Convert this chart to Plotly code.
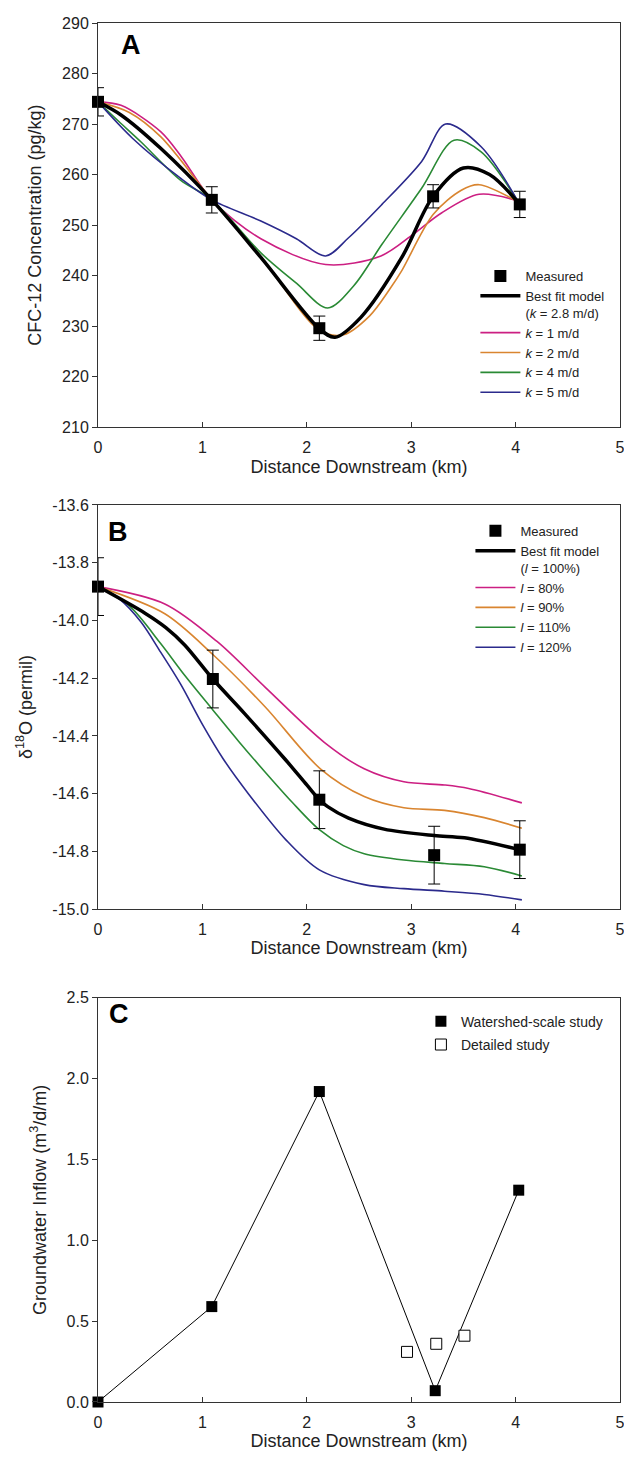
import plotly.graph_objects as go

# ---------------- Panel A data (CFC-12) ----------------
A_meas_x = [0.0, 1.09, 2.12, 3.21, 4.04]
A_meas_y = [274.4, 255.0, 229.6, 255.7, 254.1]
A_meas_err = [2.8, 2.6, 2.4, 2.3, 2.6]

A_best_x = [0.0, 0.22, 0.6, 1.09, 1.56, 2.12, 2.27, 2.52, 2.91, 3.21, 3.5, 3.75, 4.04]
A_best_y = [274.4, 271.8, 265.2, 255.0, 243.6, 229.5, 227.8, 231.8, 243.6, 255.7, 261.3, 260.0, 254.1]

A_k1_x = [0.0, 0.22, 0.6, 0.8, 1.09, 1.56, 2.18, 2.71, 3.02, 3.29, 3.65, 4.04]
A_k1_y = [274.4, 273.7, 268.5, 263.5, 255.0, 247.3, 242.2, 243.9, 248.2, 252.4, 256.1, 254.7]

A_k2_x = [0.0, 0.3, 0.6, 1.09, 1.56, 2.12, 2.35, 2.6, 2.8, 2.91, 3.21, 3.48, 3.65, 4.04]
A_k2_y = [274.4, 272.3, 267.5, 255.0, 243.8, 229.2, 228.3, 232.0, 237.5, 241.0, 252.1, 256.9, 258.0, 254.4]

A_k4_x = [0.0, 0.2, 0.41, 0.79, 1.09, 1.56, 1.9, 2.2, 2.45, 2.72, 3.1, 3.41, 3.67, 4.04]
A_k4_y = [274.4, 270.5, 266.5, 258.9, 255.0, 244.5, 238.5, 233.6, 238.0, 246.2, 257.3, 266.8, 264.5, 254.1]

A_k5_x = [0.0, 0.33, 0.79, 1.09, 1.56, 1.9, 2.18, 2.4, 2.72, 3.1, 3.33, 3.67, 4.04]
A_k5_y = [274.4, 267.2, 259.3, 255.0, 250.8, 247.3, 243.9, 247.5, 254.1, 262.6, 270.0, 265.5, 254.1]

A_yticks = [210, 220, 230, 240, 250, 260, 270, 280, 290]

# ---------------- Panel B data (delta 18O) ----------------
B_meas_x = [0.0, 1.10, 2.12, 3.22, 4.04]
B_meas_y = [-13.883, -14.203, -14.621, -14.813, -14.794]
B_meas_err = [0.1, 0.1, 0.1, 0.1, 0.1]

B_best_x = [0.0, 0.45, 0.65, 0.83, 1.10, 1.40, 1.79, 2.00, 2.12, 2.20, 2.40, 2.74, 3.22, 3.51, 4.04]
B_best_y = [-13.883, -13.975, -14.025, -14.085, -14.203, -14.321, -14.480, -14.570, -14.621, -14.645, -14.685, -14.723, -14.745, -14.753, -14.794]

B_l80_x = [0.0, 0.64, 1.14, 1.60, 2.17, 2.55, 2.93, 3.32, 3.55, 4.06]
B_l80_y = [-13.883, -13.943, -14.073, -14.231, -14.423, -14.514, -14.559, -14.570, -14.582, -14.632]

B_l90_x = [0.0, 0.64, 1.10, 1.60, 2.13, 2.55, 2.93, 3.32, 3.70, 4.06]
B_l90_y = [-13.883, -13.977, -14.118, -14.299, -14.514, -14.610, -14.649, -14.658, -14.683, -14.720]

B_l110_x = [0.0, 0.30, 0.60, 0.83, 1.10, 1.35, 1.60, 1.86, 2.12, 2.35, 2.55, 2.93, 3.32, 3.70, 4.06]
B_l110_y = [-13.883, -13.950, -14.080, -14.190, -14.310, -14.420, -14.525, -14.630, -14.725, -14.780, -14.808, -14.830, -14.842, -14.853, -14.885]

B_l120_x = [0.0, 0.20, 0.41, 0.60, 0.79, 1.00, 1.20, 1.44, 1.80, 2.12, 2.55, 2.93, 3.32, 3.70, 4.06]
B_l120_y = [-13.883, -13.925, -14.005, -14.110, -14.220, -14.360, -14.480, -14.600, -14.760, -14.864, -14.915, -14.929, -14.938, -14.949, -14.968]

B_yticks = [-15.0, -14.8, -14.6, -14.4, -14.2, -14.0, -13.8, -13.6]
B_yticklabels = ["-15.0", "-14.8", "-14.6", "-14.4", "-14.2", "-14.0", "-13.8", "-13.6"]

# ---------------- Panel C data (groundwater inflow) ----------------
C_ws_x = [0.0, 1.09, 2.12, 3.23, 4.03]
C_ws_y = [0.0, 0.59, 1.92, 0.07, 1.31]
C_det_x = [2.96, 3.24, 3.51]
C_det_y = [0.31, 0.36, 0.41]

C_yticks = [0.0, 0.5, 1.0, 1.5, 2.0, 2.5]

x_ticks = [0, 1, 2, 3, 4, 5]

# ---------------- styling ----------------
FONT = "Liberation Sans, Arial, sans-serif"
PINK = "#cc1f82"
ORANGE = "#d98530"
GREEN = "#2a8a35"
BLUE = "#2b2a8c"
TXT = "#222222"

# page offset of the plot div (browser body margin)
OFF = 8
# target plot-area edges in window pixels
P_LEFT, P_RIGHT, P_TOP, P_BOT = 98, 625, 17, 1402
W, H = 632 - OFF, 1457 - OFF
ML = P_LEFT - OFF
MR = W + OFF - P_RIGHT
MT = P_TOP - OFF
MB = H + OFF - P_BOT
PW = P_RIGHT - P_LEFT
PH = P_BOT - P_TOP

def dom(top_px, bot_px):
    return [(P_BOT - bot_px) / PH, (P_BOT - top_px) / PH]

def px_x(px):
    return (px - P_LEFT) / PW

def px_y(py):
    return (P_BOT - py) / PH

fig = go.Figure()

def curve(x, y, color, width, name, xa, ya, legend, rank):
    fig.add_trace(go.Scatter(
        x=x, y=y, mode="lines", name=name,
        line=dict(color=color, width=width, shape="spline", smoothing=0.9),
        xaxis=xa, yaxis=ya, legend=legend, legendrank=rank,
    ))

# Panel A
curve(A_k1_x, A_k1_y, PINK, 1.6, "<i>k</i> = 1 m/d", "x", "y", "legend", 3)
curve(A_k2_x, A_k2_y, ORANGE, 1.6, "<i>k</i> = 2 m/d", "x", "y", "legend", 4)
curve(A_k4_x, A_k4_y, GREEN, 1.6, "<i>k</i> = 4 m/d", "x", "y", "legend", 5)
curve(A_k5_x, A_k5_y, BLUE, 1.6, "<i>k</i> = 5 m/d", "x", "y", "legend", 6)
curve(A_best_x, A_best_y, "black", 3.5, "Best fit model<br>(<i>k</i> = 2.8 m/d)", "x", "y", "legend", 2)
fig.add_trace(go.Scatter(
    x=A_meas_x, y=A_meas_y, mode="markers", name="Measured",
    marker=dict(symbol="square", size=12, color="black"),
    error_y=dict(type="data", array=A_meas_err, color="black", thickness=1, width=6),
    xaxis="x", yaxis="y", legend="legend", legendrank=1, cliponaxis=False,
))

# Panel B
curve(B_l80_x, B_l80_y, PINK, 1.6, "<i>l</i> = 80%", "x2", "y2", "legend2", 3)
curve(B_l90_x, B_l90_y, ORANGE, 1.6, "<i>l</i> = 90%", "x2", "y2", "legend2", 4)
curve(B_l110_x, B_l110_y, GREEN, 1.6, "<i>l</i> = 110%", "x2", "y2", "legend2", 5)
curve(B_l120_x, B_l120_y, BLUE, 1.6, "<i>l</i> = 120%", "x2", "y2", "legend2", 6)
curve(B_best_x, B_best_y, "black", 3.5, "Best fit model<br>(<i>l</i> = 100%)", "x2", "y2", "legend2", 2)
fig.add_trace(go.Scatter(
    x=B_meas_x, y=B_meas_y, mode="markers", name="Measured",
    marker=dict(symbol="square", size=12, color="black"),
    error_y=dict(type="data", array=B_meas_err, color="black", thickness=1, width=6),
    xaxis="x2", yaxis="y2", legend="legend2", legendrank=1, cliponaxis=False,
))

# Panel C
fig.add_trace(go.Scatter(
    x=C_ws_x, y=C_ws_y, mode="lines", showlegend=False,
    line=dict(color="black", width=1),
    xaxis="x3", yaxis="y3", hoverinfo="skip",
))
fig.add_trace(go.Scatter(
    x=C_ws_x, y=C_ws_y, mode="markers", name="Watershed-scale study",
    marker=dict(symbol="square", size=11, color="black"),
    xaxis="x3", yaxis="y3", legend="legend3", legendgroup="ws", cliponaxis=False,
))
fig.add_trace(go.Scatter(
    x=C_det_x, y=C_det_y, mode="markers", name="Detailed study",
    marker=dict(symbol="square", size=11, color="white", line=dict(color="black", width=1)),
    xaxis="x3", yaxis="y3", legend="legend3", legendgroup="det", cliponaxis=False,
))

axis_common = dict(
    showline=True, mirror=True, linecolor="#333333", linewidth=1,
    showgrid=False, zeroline=False, ticklen=5, tickcolor="#333333",
    tickfont=dict(family=FONT, size=16, color=TXT),
)

xcommon = dict(axis_common, range=[0, 5], tickvals=x_ticks, ticks="inside",
               ticklabelstandoff=6, ticklabeloverflow="allow",
               title=dict(text="Distance Downstream (km)", font=dict(family=FONT, size=18, color=TXT), standoff=4))

legend_font = dict(family=FONT, size=13, color=TXT)

fig.update_layout(
    width=W, height=H,
    margin=dict(l=ML, r=MR, t=MT, b=MB),
    paper_bgcolor="white", plot_bgcolor="white",
    font=dict(family=FONT, color=TXT),
    xaxis=dict(xcommon, domain=[0, 1], anchor="y"),
    xaxis2=dict(xcommon, domain=[0, 1], anchor="y2"),
    xaxis3=dict(xcommon, domain=[0, 1], anchor="y3"),
    yaxis=dict(axis_common, domain=dom(17, 423), anchor="x", range=[210, 290],
               tickvals=A_yticks, ticks="outside",
               title=dict(text="CFC-12 Concentration (pg/kg)", font=dict(family=FONT, size=18, color=TXT))),
    yaxis2=dict(axis_common, domain=dom(501, 907), anchor="x2", range=[-15.0, -13.6],
                tickvals=B_yticks, ticktext=B_yticklabels, ticks="outside",
                title=dict(text="δ<sup>18</sup>O (permil)", font=dict(family=FONT, size=18, color=TXT))),
    yaxis3=dict(axis_common, domain=dom(996, 1402), anchor="x3", range=[0, 2.5],
                tickvals=C_yticks, tickformat=".1f", ticks="outside",
                title=dict(text="Groundwater Inflow (m<sup>3</sup>/d/m)", font=dict(family=FONT, size=18, color=TXT))),
    legend=dict(x=px_x(479), y=px_y(256), xanchor="left", yanchor="top",
                bgcolor="rgba(0,0,0,0)", font=legend_font, valign="top", itemwidth=40),
    legend2=dict(x=px_x(474), y=px_y(512), xanchor="left", yanchor="top",
                 bgcolor="rgba(0,0,0,0)", font=legend_font, valign="top", itemwidth=40),
    legend3=dict(x=px_x(424), y=px_y(1004), xanchor="left", yanchor="top",
                 bgcolor="rgba(0,0,0,0)", font=dict(family=FONT, size=14, color=TXT),
                 tracegroupgap=2),
    showlegend=True,
)

letter_font = dict(family=FONT, size=27, color="black")
for txt, xr, yr, lx, ly, top, bot in [
    ("A", "x domain", "y domain", 131, 39, 17, 423),
    ("B", "x2 domain", "y2 domain", 118, 528, 501, 907),
    ("C", "x3 domain", "y3 domain", 119, 1012, 996, 1402),
]:
    fig.add_annotation(text="<b>%s</b>" % txt, x=(lx - P_LEFT) / PW, y=(bot - ly) / (bot - top),
                       xref=xr, yref=yr, xanchor="center", yanchor="middle",
                       showarrow=False, font=letter_font)

fig.write_html("out.html")
